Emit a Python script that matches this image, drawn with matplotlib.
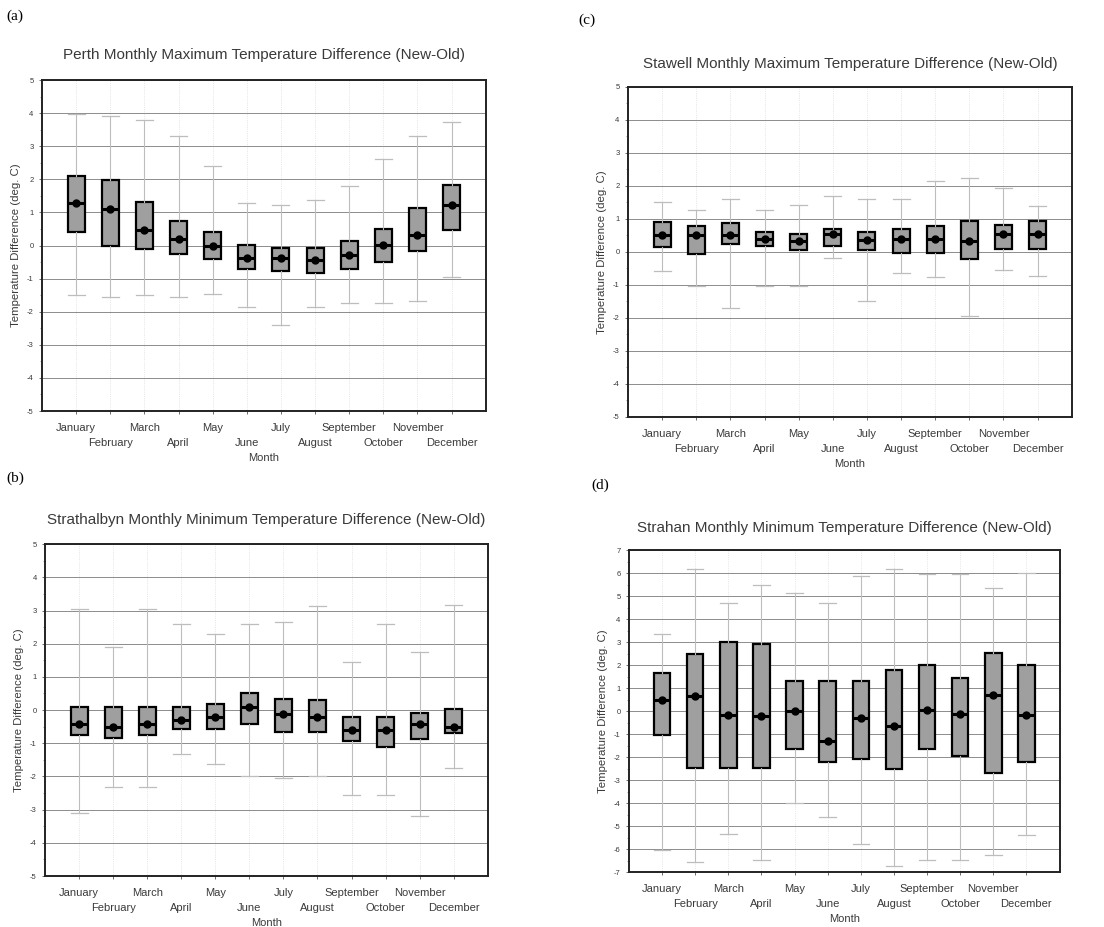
#!/usr/bin/env python3
"""
Monthly New-Old temperature difference box plots for four stations.
"""

import matplotlib

matplotlib.use("Agg")

import matplotlib.pyplot as plt
from matplotlib.ticker import MultipleLocator


MONTHS = ["January", "February", "March", "April", "May", "June", "July",
          "August", "September", "October", "November", "December"]
MONTH_POS = list(range(1, 13))

# (a) Perth, maximum temperature
PERTH_MED = [1.29, 1.09, 0.48, 0.20, 0.00, -0.37, -0.38, -0.44, -0.30, 0.01, 0.33, 1.23]
PERTH_Q1 = [0.40, -0.02, -0.10, -0.24, -0.42, -0.70, -0.76, -0.83, -0.70, -0.50, -0.17, 0.48]
PERTH_Q3 = [2.11, 1.97, 1.32, 0.75, 0.42, 0.02, -0.07, -0.07, 0.14, 0.50, 1.15, 1.84]
PERTH_LO = [-1.48, -1.56, -1.48, -1.56, -1.46, -1.85, -2.39, -1.85, -1.75, -1.75, -1.68, -0.96]
PERTH_HI = [3.98, 3.90, 3.80, 3.32, 2.40, 1.29, 1.24, 1.39, 1.81, 2.62, 3.32, 3.73]

# (b) Strathalbyn, minimum temperature
STRATH_MED = [-0.42, -0.52, -0.42, -0.30, -0.20, 0.10, -0.12, -0.20, -0.60, -0.60, -0.43, -0.50]
STRATH_Q1 = [-0.75, -0.83, -0.75, -0.57, -0.57, -0.42, -0.65, -0.65, -0.92, -1.12, -0.87, -0.70]
STRATH_Q3 = [0.08, 0.08, 0.08, 0.08, 0.17, 0.50, 0.32, 0.30, -0.22, -0.22, -0.08, 0.02]
STRATH_LO = [-3.09, -2.31, -2.31, -1.31, -1.61, -1.99, -2.04, -1.99, -2.56, -2.56, -3.19, -1.74]
STRATH_HI = [3.06, 1.91, 3.06, 2.58, 2.28, 2.58, 2.66, 3.14, 1.46, 2.58, 1.76, 3.16]

# (c) Stawell, maximum temperature
STAWELL_MED = [0.52, 0.52, 0.52, 0.39, 0.32, 0.53, 0.35, 0.39, 0.40, 0.32, 0.53, 0.53]
STAWELL_Q1 = [0.15, -0.05, 0.25, 0.17, 0.07, 0.17, 0.07, -0.03, -0.03, -0.21, 0.09, 0.09]
STAWELL_Q3 = [0.90, 0.78, 0.88, 0.61, 0.53, 0.70, 0.61, 0.70, 0.78, 0.95, 0.83, 0.95]
STAWELL_LO = [-0.59, -1.04, -1.70, -1.04, -1.04, -0.18, -1.48, -0.64, -0.77, -1.95, -0.56, -0.72]
STAWELL_HI = [1.51, 1.26, 1.59, 1.26, 1.41, 1.71, 1.59, 1.59, 2.15, 2.25, 1.94, 1.39]

# (d) Strahan, minimum temperature
STRAHAN_MED = [0.47, 0.66, -0.17, -0.20, 0.01, -1.29, -0.30, -0.66, 0.04, -0.13, 0.72, -0.15]
STRAHAN_Q1 = [-1.02, -2.46, -2.46, -2.46, -1.63, -2.21, -2.07, -2.50, -1.63, -1.97, -2.69, -2.21]
STRAHAN_Q3 = [1.68, 2.50, 3.01, 2.94, 1.32, 1.32, 1.32, 1.78, 2.03, 1.46, 2.55, 2.03]
STRAHAN_LO = [-6.05, -6.56, -5.33, -6.46, -3.99, -4.60, -5.80, -6.75, -6.46, -6.49, -6.24, -5.40]
STRAHAN_HI = [3.37, 6.21, 4.69, 5.49, 5.13, 4.69, 5.88, 6.21, 5.96, 5.96, 5.38, 6.02]

SANS = ["Liberation Sans", "DejaVu Sans"]
SERIF = ["Liberation Serif", "DejaVu Serif"]
TXT = "#3a3a3a"
ROW_PAD = 6.0      # points, first row of month names
ROW_STEP = 10.8    # points, extra drop for the second row


def box_panel(fig, rect, title, med, q1, q3, lo, hi, ylim, title_y):
    ax = fig.add_axes(rect)
    stats = [
        {"med": m, "q1": a, "q3": b, "whislo": w0, "whishi": w1, "fliers": []}
        for m, a, b, w0, w1 in zip(med, q1, q3, lo, hi)
    ]
    ax.bxp(
        stats,
        positions=MONTH_POS,
        widths=0.5,
        capwidths=0.5,
        patch_artist=True,
        boxprops=dict(facecolor="#9f9f9f", edgecolor="black", linewidth=1.6),
        whiskerprops=dict(color="#bdbdbd", linewidth=0.8),
        capprops=dict(color="#bdbdbd", linewidth=0.9),
        medianprops=dict(color="black", linewidth=2.2),
        showfliers=False,
        zorder=3,
    )
    ax.plot(MONTH_POS, med, "o", color="black", markersize=5, zorder=5)

    ax.set_xlim(0, 13)
    ax.set_ylim(*ylim)
    ticks = list(range(ylim[0], ylim[1] + 1))
    ax.set_yticks(ticks)
    ax.set_yticklabels([str(v) for v in ticks], fontsize=5.5, family=SANS, color=TXT)
    ax.yaxis.set_minor_locator(MultipleLocator(0.5))
    ax.set_xticks(MONTH_POS)
    ax.set_xticklabels(MONTHS, fontsize=8, family=SANS, color=TXT)
    ax.tick_params(axis="both", length=2.5, width=0.6, color="#555555")
    ax.tick_params(axis="y", which="minor", length=1.5, width=0.5, color="#777777")
    ax.tick_params(axis="x", pad=ROW_PAD)
    # stagger the month names over two rows
    for i, tick in enumerate(ax.xaxis.get_major_ticks()):
        if i % 2 == 1:
            tick.set_pad(ROW_PAD + ROW_STEP)

    ax.grid(axis="y", color="#8c8c8c", linewidth=0.7, zorder=0)
    ax.grid(axis="x", color="#d4d4d4", linewidth=0.5, linestyle=":", zorder=0)
    ax.set_axisbelow(True)
    for sp in ax.spines.values():
        sp.set_linewidth(1.4)
        sp.set_color("#222222")

    ax.set_xlabel("Month", fontsize=8, family=SANS, color=TXT, labelpad=3.5)
    ax.set_ylabel("Temperature Difference (deg. C)", fontsize=8.2, family=SANS,
                  color=TXT, labelpad=4)
    ax.text(0.5, title_y, title, transform=ax.transAxes, ha="center", va="center",
            fontsize=11, family=SANS, color=TXT)
    return ax


def main():
    fig = plt.figure(figsize=(11.04, 9.27), dpi=100)
    fig.patch.set_facecolor("white")

    box_panel(fig, [0.038, 0.5566, 0.402, 0.357],
              "Perth Monthly Maximum Temperature Difference (New-Old)",
              PERTH_MED, PERTH_Q1, PERTH_Q3, PERTH_LO, PERTH_HI, (-5, 5), 1.075)
    box_panel(fig, [0.5688, 0.5502, 0.402, 0.356],
              "Stawell Monthly Maximum Temperature Difference (New-Old)",
              STAWELL_MED, STAWELL_Q1, STAWELL_Q3, STAWELL_LO, STAWELL_HI, (-5, 5), 1.07)
    box_panel(fig, [0.0408, 0.055, 0.401, 0.358],
              "Strathalbyn Monthly Minimum Temperature Difference (New-Old)",
              STRATH_MED, STRATH_Q1, STRATH_Q3, STRATH_LO, STRATH_HI, (-5, 5), 1.072)
    box_panel(fig, [0.5697, 0.0593, 0.390, 0.347],
              "Strahan Monthly Minimum Temperature Difference (New-Old)",
              STRAHAN_MED, STRAHAN_Q1, STRAHAN_Q3, STRAHAN_LO, STRAHAN_HI, (-7, 7), 1.07)

    for label, x, y in [("(a)", 0.006, 0.982), ("(c)", 0.524, 0.978),
                        ("(b)", 0.006, 0.484), ("(d)", 0.536, 0.477)]:
        fig.text(x, y, label, fontsize=11, family=SERIF, ha="left", va="center")

    fig.savefig("out.png", dpi=100, facecolor="white")
    plt.close(fig)


if __name__ == "__main__":
    main()
